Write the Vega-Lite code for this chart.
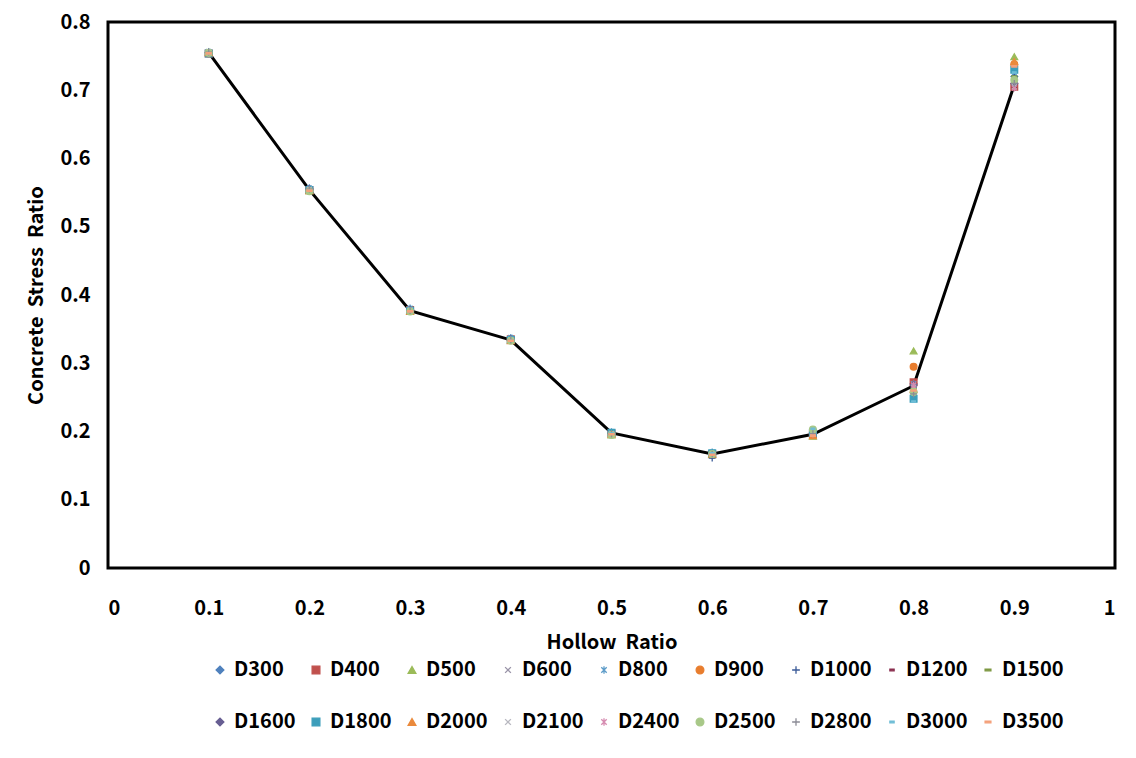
{
  "$schema": "https://vega.github.io/schema/vega-lite/v6.json",
  "autosize": {"type": "none"},
  "padding": {"left": 108, "top": 22, "right": 21, "bottom": 190},
  "width": 1007,
  "height": 546,
  "background": "white",
  "config": {
    "view": {"stroke": "black", "strokeWidth": 3},
    "font": "Noto Sans CJK KR",
    "legend": {
      "title": null, "orient": "none", "legendX": 102, "legendY": 638,
      "direction": "horizontal", "columns": 9, "columnPadding": 10, "rowPadding": 32,
      "labelFont": "Noto Sans CJK KR", "labelFontSize": 20, "labelFontWeight": "bold", "labelColor": "black",
      "symbolSize": 60, "symbolStrokeWidth": 1.3, "labelOffset": 4, "labelLimit": 200
    }
  },
  "datasets": {
    "avg": [
      {"h": 0.1, "r": 0.755}, {"h": 0.2, "r": 0.554}, {"h": 0.3, "r": 0.377},
      {"h": 0.4, "r": 0.334}, {"h": 0.5, "r": 0.198}, {"h": 0.6, "r": 0.167},
      {"h": 0.7, "r": 0.196}, {"h": 0.8, "r": 0.267}, {"h": 0.9, "r": 0.708}
    ],
    "pts": [
      {"s":"D300","h":0.1,"r":0.755},{"s":"D400","h":0.1,"r":0.754},{"s":"D500","h":0.1,"r":0.756},{"s":"D600","h":0.1,"r":0.755},{"s":"D800","h":0.1,"r":0.757},{"s":"D900","h":0.1,"r":0.754},{"s":"D1000","h":0.1,"r":0.755},{"s":"D1200","h":0.1,"r":0.756},{"s":"D1500","h":0.1,"r":0.754},{"s":"D1600","h":0.1,"r":0.755},{"s":"D1800","h":0.1,"r":0.754},{"s":"D2000","h":0.1,"r":0.755},{"s":"D2100","h":0.1,"r":0.756},{"s":"D2400","h":0.1,"r":0.754},{"s":"D2500","h":0.1,"r":0.755},{"s":"D2800","h":0.1,"r":0.756},{"s":"D3000","h":0.1,"r":0.754},{"s":"D3500","h":0.1,"r":0.754},
      {"s":"D300","h":0.2,"r":0.556},{"s":"D400","h":0.2,"r":0.554},{"s":"D500","h":0.2,"r":0.553},{"s":"D600","h":0.2,"r":0.555},{"s":"D800","h":0.2,"r":0.557},{"s":"D900","h":0.2,"r":0.554},{"s":"D1000","h":0.2,"r":0.555},{"s":"D1200","h":0.2,"r":0.553},{"s":"D1500","h":0.2,"r":0.552},{"s":"D1600","h":0.2,"r":0.555},{"s":"D1800","h":0.2,"r":0.554},{"s":"D2000","h":0.2,"r":0.553},{"s":"D2100","h":0.2,"r":0.555},{"s":"D2400","h":0.2,"r":0.554},{"s":"D2500","h":0.2,"r":0.552},{"s":"D2800","h":0.2,"r":0.555},{"s":"D3000","h":0.2,"r":0.553},{"s":"D3500","h":0.2,"r":0.553},
      {"s":"D300","h":0.3,"r":0.379},{"s":"D400","h":0.3,"r":0.378},{"s":"D500","h":0.3,"r":0.377},{"s":"D600","h":0.3,"r":0.378},{"s":"D800","h":0.3,"r":0.381},{"s":"D900","h":0.3,"r":0.377},{"s":"D1000","h":0.3,"r":0.378},{"s":"D1200","h":0.3,"r":0.377},{"s":"D1500","h":0.3,"r":0.376},{"s":"D1600","h":0.3,"r":0.378},{"s":"D1800","h":0.3,"r":0.377},{"s":"D2000","h":0.3,"r":0.376},{"s":"D2100","h":0.3,"r":0.378},{"s":"D2400","h":0.3,"r":0.377},{"s":"D2500","h":0.3,"r":0.376},{"s":"D2800","h":0.3,"r":0.377},{"s":"D3000","h":0.3,"r":0.376},{"s":"D3500","h":0.3,"r":0.376},
      {"s":"D300","h":0.4,"r":0.336},{"s":"D400","h":0.4,"r":0.335},{"s":"D500","h":0.4,"r":0.334},{"s":"D600","h":0.4,"r":0.335},{"s":"D800","h":0.4,"r":0.338},{"s":"D900","h":0.4,"r":0.334},{"s":"D1000","h":0.4,"r":0.335},{"s":"D1200","h":0.4,"r":0.334},{"s":"D1500","h":0.4,"r":0.333},{"s":"D1600","h":0.4,"r":0.335},{"s":"D1800","h":0.4,"r":0.334},{"s":"D2000","h":0.4,"r":0.333},{"s":"D2100","h":0.4,"r":0.335},{"s":"D2400","h":0.4,"r":0.334},{"s":"D2500","h":0.4,"r":0.333},{"s":"D2800","h":0.4,"r":0.334},{"s":"D3000","h":0.4,"r":0.333},{"s":"D3500","h":0.4,"r":0.333},
      {"s":"D300","h":0.5,"r":0.198},{"s":"D400","h":0.5,"r":0.197},{"s":"D500","h":0.5,"r":0.195},{"s":"D600","h":0.5,"r":0.198},{"s":"D800","h":0.5,"r":0.2},{"s":"D900","h":0.5,"r":0.196},{"s":"D1000","h":0.5,"r":0.197},{"s":"D1200","h":0.5,"r":0.195},{"s":"D1500","h":0.5,"r":0.194},{"s":"D1600","h":0.5,"r":0.197},{"s":"D1800","h":0.5,"r":0.198},{"s":"D2000","h":0.5,"r":0.196},{"s":"D2100","h":0.5,"r":0.197},{"s":"D2400","h":0.5,"r":0.196},{"s":"D2500","h":0.5,"r":0.195},{"s":"D2800","h":0.5,"r":0.196},{"s":"D3000","h":0.5,"r":0.197},{"s":"D3500","h":0.5,"r":0.196},
      {"s":"D300","h":0.6,"r":0.168},{"s":"D400","h":0.6,"r":0.167},{"s":"D500","h":0.6,"r":0.166},{"s":"D600","h":0.6,"r":0.167},{"s":"D800","h":0.6,"r":0.17},{"s":"D900","h":0.6,"r":0.166},{"s":"D1000","h":0.6,"r":0.161},{"s":"D1200","h":0.6,"r":0.167},{"s":"D1500","h":0.6,"r":0.166},{"s":"D1600","h":0.6,"r":0.167},{"s":"D1800","h":0.6,"r":0.168},{"s":"D2000","h":0.6,"r":0.167},{"s":"D2100","h":0.6,"r":0.167},{"s":"D2400","h":0.6,"r":0.166},{"s":"D2500","h":0.6,"r":0.167},{"s":"D2800","h":0.6,"r":0.167},{"s":"D3000","h":0.6,"r":0.168},{"s":"D3500","h":0.6,"r":0.166},
      {"s":"D300","h":0.7,"r":0.198},{"s":"D400","h":0.7,"r":0.196},{"s":"D500","h":0.7,"r":0.193},{"s":"D600","h":0.7,"r":0.199},{"s":"D800","h":0.7,"r":0.2},{"s":"D900","h":0.7,"r":0.195},{"s":"D1000","h":0.7,"r":0.197},{"s":"D1200","h":0.7,"r":0.193},{"s":"D1500","h":0.7,"r":0.192},{"s":"D1600","h":0.7,"r":0.196},{"s":"D1800","h":0.7,"r":0.198},{"s":"D2000","h":0.7,"r":0.194},{"s":"D2100","h":0.7,"r":0.199},{"s":"D2400","h":0.7,"r":0.196},{"s":"D2500","h":0.7,"r":0.203},{"s":"D2800","h":0.7,"r":0.197},{"s":"D3000","h":0.7,"r":0.204},{"s":"D3500","h":0.7,"r":0.194},
      {"s":"D300","h":0.8,"r":0.27},{"s":"D400","h":0.8,"r":0.272},{"s":"D500","h":0.8,"r":0.318},{"s":"D600","h":0.8,"r":0.27},{"s":"D800","h":0.8,"r":0.27},{"s":"D900","h":0.8,"r":0.295},{"s":"D1000","h":0.8,"r":0.265},{"s":"D1200","h":0.8,"r":0.268},{"s":"D1500","h":0.8,"r":0.262},{"s":"D1600","h":0.8,"r":0.268},{"s":"D1800","h":0.8,"r":0.248},{"s":"D2000","h":0.8,"r":0.262},{"s":"D2100","h":0.8,"r":0.265},{"s":"D2400","h":0.8,"r":0.268},{"s":"D2500","h":0.8,"r":0.258},{"s":"D2800","h":0.8,"r":0.255},{"s":"D3000","h":0.8,"r":0.244},{"s":"D3500","h":0.8,"r":0.26},
      {"s":"D300","h":0.9,"r":0.72},{"s":"D400","h":0.9,"r":0.705},{"s":"D500","h":0.9,"r":0.749},{"s":"D600","h":0.9,"r":0.71},{"s":"D800","h":0.9,"r":0.725},{"s":"D900","h":0.9,"r":0.738},{"s":"D1000","h":0.9,"r":0.72},{"s":"D1200","h":0.9,"r":0.705},{"s":"D1500","h":0.9,"r":0.72},{"s":"D1600","h":0.9,"r":0.71},{"s":"D1800","h":0.9,"r":0.73},{"s":"D2000","h":0.9,"r":0.742},{"s":"D2100","h":0.9,"r":0.705},{"s":"D2400","h":0.9,"r":0.703},{"s":"D2500","h":0.9,"r":0.715},{"s":"D2800","h":0.9,"r":0.71},{"s":"D3000","h":0.9,"r":0.726},{"s":"D3500","h":0.9,"r":0.735}
    ]
  },
  "layer": [
    {
      "data": {"name": "avg"},
      "mark": {"type": "line", "color": "black", "strokeWidth": 3},
      "encoding": {
        "x": {"field": "h", "type": "quantitative"},
        "y": {"field": "r", "type": "quantitative"}
      }
    },
    {
      "data": {"name": "pts"},
      "mark": {"type": "point", "filled": true, "size": 45, "strokeWidth": 1.3, "opacity": 1},
      "encoding": {
        "x": {"field": "h", "type": "quantitative"},
        "y": {"field": "r", "type": "quantitative"},
        "fill": {"field": "s", "type": "nominal", "sort": null, "scale": {"domain": ["D300","D400","D500","D600","D800","D900","D1000","D1200","D1500","D1600","D1800","D2000","D2100","D2400","D2500","D2800","D3000","D3500"], "range": ["#4F81BD","#C0504D","#9BBB59","#9A94A8","#5B9BC8","#E87D2E","#3A5A98","#8A2F4F","#7D9842","#675E92","#3C9EBB","#EA8A3C","#B8B8C0","#D68BB0","#A8C888","#8C8C96","#6FBDD6","#F4A07A"]}},
        "stroke": {"field": "s", "type": "nominal", "sort": null, "scale": {"domain": ["D300","D400","D500","D600","D800","D900","D1000","D1200","D1500","D1600","D1800","D2000","D2100","D2400","D2500","D2800","D3000","D3500"], "range": ["#4F81BD","#C0504D","#9BBB59","#9A94A8","#5B9BC8","#E87D2E","#3A5A98","#8A2F4F","#7D9842","#675E92","#3C9EBB","#EA8A3C","#B8B8C0","#D68BB0","#A8C888","#8C8C96","#6FBDD6","#F4A07A"]}},
        "shape": {"field": "s", "type": "nominal", "sort": null, "scale": {"domain": ["D300","D400","D500","D600","D800","D900","D1000","D1200","D1500","D1600","D1800","D2000","D2100","D2400","D2500","D2800","D3000","D3500"], "range": ["diamond","square","triangle-up","M-0.75,-0.75L0.75,0.75M-0.75,0.75L0.75,-0.75","M-0.7,-0.7L0.7,0.7M-0.7,0.7L0.7,-0.7M0,-1L0,1","circle","M-1,0L1,0M0,-1L0,1","M-0.55,-0.2H0.55V0.2H-0.55Z","M-0.75,-0.2H0.75V0.2H-0.75Z","diamond","square","triangle-up","M-0.75,-0.75L0.75,0.75M-0.75,0.75L0.75,-0.75","M-0.7,-0.7L0.7,0.7M-0.7,0.7L0.7,-0.7M0,-1L0,1","circle","M-1,0L1,0M0,-1L0,1","M-0.55,-0.2H0.55V0.2H-0.55Z","M-0.75,-0.2H0.75V0.2H-0.75Z"]}}
      }
    }
  ],
  "encoding": {
    "x": {"field": "h", "type": "quantitative",
      "scale": {"domain": [0, 1], "nice": false, "zero": true},
      "axis": {"title": "Hollow\u00a0 Ratio", "values": [0,0.1,0.2,0.3,0.4,0.5,0.6,0.7,0.8,0.9,1], "format": "~g",
        "grid": false, "domain": false, "ticks": false, "tickSize": 0, "labelPadding": 30,
        "labelFont": "Noto Sans CJK KR", "labelFontSize": 20, "labelFontWeight": "bold", "labelColor": "black",
        "titleFont": "Noto Sans CJK KR", "titleFontSize": 20, "titleFontWeight": "bold", "titleColor": "black", "titlePadding": 14}},
    "y": {"field": "r", "type": "quantitative",
      "scale": {"domain": [0, 0.8], "nice": false},
      "axis": {"title": "Concrete\u00a0 Stress\u00a0 Ratio", "values": [0,0.1,0.2,0.3,0.4,0.5,0.6,0.7,0.8], "format": "~g",
        "grid": false, "domain": false, "ticks": false, "tickSize": 0, "labelPadding": 18,
        "labelFont": "Noto Sans CJK KR", "labelFontSize": 20, "labelFontWeight": "bold", "labelColor": "black",
        "titleFont": "Noto Sans CJK KR", "titleFontSize": 20, "titleFontWeight": "bold", "titleColor": "black", "titlePadding": 13}}
  }
}
